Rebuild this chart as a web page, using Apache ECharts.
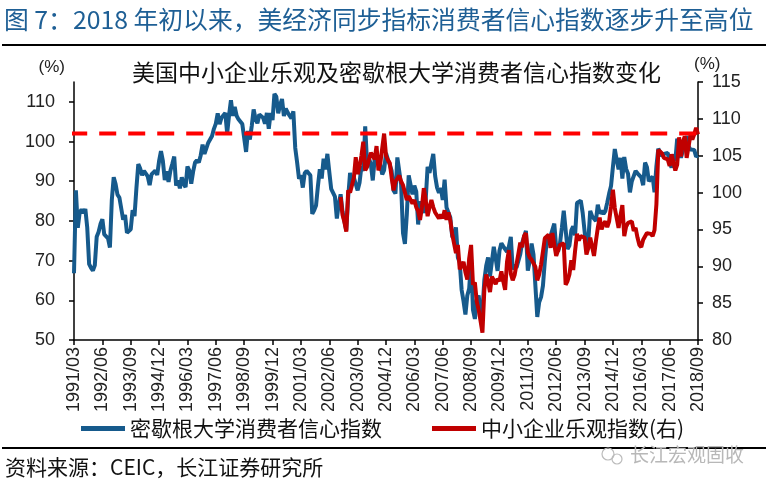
<!DOCTYPE html>
<html><head><meta charset="utf-8">
<script src="https://cdn.jsdelivr.net/npm/echarts@6/dist/echarts.min.js"></script>
<style>html,body{margin:0;padding:0;background:#fff;}#c{width:768px;height:492px;}</style>
</head><body><div id="c"></div>
<script>
// ---------- data ----------
const headerText = '图 7：2018 年初以来，美经济同步指标消费者信心指数逐步升至高位';
const chartTitle = '美国中小企业乐观及密歇根大学消费者信心指数变化';
const sourceText = '资料来源：CEIC，长江证券研究所';
const watermarkText = '长江宏观固收';
const seriesNames = ['密歇根大学消费者信心指数', '中小企业乐观指数(右)'];
const tickLabels = ['1991/03','1992/06','1993/09','1994/12','1996/03','1997/06','1998/09','1999/12',
  '2001/03','2002/06','2003/09','2004/12','2006/03','2007/06','2008/09','2009/12','2011/03',
  '2012/06','2013/09','2014/12','2016/03','2017/06','2018/09'];
const leftTicks = [50, 60, 70, 80, 90, 100, 110];
const refLevel = 102; // dashed reference level (left axis)

// Michigan consumer sentiment, monthly 1991/03 - 2018/09
const michigan = [
  66.8, 87.7, 78.3, 82.1, 82.9, 82.0, 83.0, 78.3, 69.1, 68.2,
  67.5, 68.8, 76.0, 77.2, 79.2, 80.4, 76.6, 76.1, 75.6, 73.3, 85.3, 91.0,
  89.3, 86.6, 85.9, 85.6, 80.3, 81.5, 77.0, 77.3, 77.9, 82.7, 81.2, 88.2,
  94.3, 93.2, 91.5, 92.6, 92.8, 91.2, 89.0, 91.7, 91.5, 92.7, 91.6, 95.1,
  97.6, 95.1, 90.3, 92.5, 89.8, 92.7, 94.4, 96.2, 88.9, 90.2, 88.2, 91.0,
  89.3, 88.5, 93.7, 92.7, 89.4, 92.4, 94.7, 95.3, 94.7, 96.5, 99.2, 96.9,
  97.4, 99.7, 100.0, 101.4, 103.2, 104.5, 107.1, 104.4, 106.0, 105.6, 107.2, 102.1,
  106.6, 110.4, 106.5, 108.7, 106.5, 105.6, 105.2, 104.4, 100.9, 97.4, 102.7, 100.5,
  103.9, 108.1, 105.7, 104.6, 106.8, 107.3, 106.0, 104.5, 107.2, 103.2, 107.2, 105.4,
  112.0, 111.3, 107.1, 109.2, 110.7, 106.4, 108.3, 107.3, 106.8, 105.8, 107.6, 98.4,
  94.7, 90.6, 91.5, 88.4, 92.0, 92.6, 92.4, 91.5, 81.8, 82.7, 83.9, 88.8,
  93.0, 90.7, 95.7, 93.0, 96.9, 92.4, 88.1, 87.6, 86.1, 80.6, 84.2, 86.7,
  82.4, 79.9, 77.6, 86.0, 92.1, 89.7, 90.9, 89.3, 87.7, 89.6, 93.7, 92.6,
  103.8, 94.4, 95.8, 94.2, 90.2, 95.6, 96.7, 95.9, 94.2, 91.7, 92.8, 97.1,
  95.5, 94.1, 92.6, 87.7, 86.9, 96.0, 96.5, 89.1, 76.9, 74.2, 81.6, 91.5,
  91.2, 86.7, 88.9, 87.4, 79.1, 84.9, 84.7, 82.0, 85.4, 93.6, 92.1, 91.7,
  96.9, 91.3, 88.4, 87.1, 88.3, 85.3, 90.4, 83.4, 83.4, 80.9, 76.1, 75.5,
  78.4, 70.8, 69.5, 62.6, 59.8, 56.4, 61.2, 63.0, 70.3, 57.6, 55.3, 60.1,
  61.2, 56.3, 57.3, 65.1, 68.7, 70.8, 66.0, 65.7, 73.5, 70.6, 67.4, 72.5,
  74.4, 73.6, 73.6, 72.2, 73.6, 76.0, 67.8, 68.9, 68.2, 67.7, 71.6, 74.5,
  74.2, 77.5, 67.5, 69.8, 74.3, 71.5, 63.7, 55.8, 59.5, 60.8, 63.7, 69.9,
  75.0, 75.3, 76.2, 76.4, 79.3, 73.2, 72.3, 74.3, 78.3, 82.6, 82.7, 72.9,
  73.8, 77.6, 78.6, 76.4, 84.5, 84.1, 85.1, 82.1, 77.5, 73.2, 75.1, 82.5,
  81.2, 81.6, 80.0, 84.1, 81.9, 82.5, 81.8, 82.5, 84.6, 86.9, 88.8, 93.6,
  98.1, 95.4, 93.0, 95.9, 90.7, 96.1, 93.1, 91.9, 87.2, 90.0, 91.3, 92.6,
  92.0, 91.7, 91.0, 89.0, 94.7, 93.5, 90.0, 89.8, 91.2, 87.2, 93.8, 98.2,
  98.5, 96.3, 96.9, 97.0, 97.1, 95.1, 93.4, 96.8, 95.1, 100.7, 98.5, 95.9,
  95.7, 99.7, 101.4, 98.8, 98.0, 98.2, 97.9, 96.2, 96.5
];

// NFIB small business optimism, monthly 2002/12 - 2018/09
const nfibStart = '2002/12';
const nfib = [
  99.4,
  97.0, 96.0, 94.7, 100.3, 100.0, 101.0, 102.0, 104.8, 102.5, 103.5, 105.0, 106.9,
  103.0, 103.5, 104.5, 105.4, 105.0, 104.5, 106.3, 103.0, 104.0, 106.0, 108.0, 105.0,
  104.4, 104.0, 102.0, 100.3, 101.5, 101.5, 102.3, 101.5, 101.0, 100.0, 99.0, 99.5,
  99.0, 98.5, 99.0, 98.0, 97.5, 96.3, 98.0, 100.6, 99.0, 96.8, 98.0, 99.0,
  98.0, 97.3, 97.3, 96.5, 97.0, 96.5, 97.6, 96.3, 97.3, 96.2, 94.4, 94.6,
  91.8, 92.9, 89.6, 89.4, 90.6, 89.2, 88.2, 91.1, 92.9, 87.5, 87.8, 85.2,
  84.1, 82.6, 81.0, 86.8, 88.9, 87.9, 86.5, 88.6, 88.8, 87.6, 88.3, 88.0,
  89.3, 88.0, 86.8, 90.6, 92.2, 89.0, 88.1, 88.8, 89.0, 91.7, 93.2, 92.6,
  94.1, 94.5, 91.9, 91.2, 90.9, 90.8, 89.9, 88.1, 88.9, 90.2, 92.0, 93.8,
  93.9, 94.3, 92.5, 94.5, 94.4, 91.4, 91.2, 92.9, 92.8, 93.1, 87.5, 88.0,
  88.9, 90.8, 89.5, 92.1, 94.4, 93.5, 94.1, 94.0, 93.9, 91.6, 92.5, 93.9,
  94.1, 91.4, 93.4, 95.2, 96.6, 95.0, 95.7, 96.1, 95.3, 96.1, 98.1, 100.4,
  97.9, 98.0, 95.2, 96.9, 98.3, 94.1, 95.4, 95.9, 96.1, 96.1, 94.8, 95.2,
  93.9, 92.9, 92.6, 93.6, 93.8, 94.5, 94.6, 94.4, 94.1, 94.9, 98.4, 105.8,
  105.9, 105.3, 104.7, 104.5, 104.5, 103.6, 105.2, 105.3, 103.0, 103.8, 107.5, 104.9,
  106.9, 107.6, 104.7, 104.8, 107.8, 107.2, 107.9, 108.8, 107.9
];

// ---------- build ----------
const months = [];
for (let i = 0; i < michigan.length; i++) {
  const m = 2 + i; // 0-based month index from Jan 1991
  const y = 1991 + Math.floor(m / 12);
  const mm = (m % 12) + 1;
  months.push(y + '/' + (mm < 10 ? '0' + mm : mm));
}
const startIdx = months.indexOf(nfibStart);
const nfibData = months.map((_, i) => (i >= startIdx && i - startIdx < nfib.length) ? nfib[i - startIdx] : null);
const lastIdx = months.length - 1;

const LAT = '"Liberation Sans", Arial, "Noto Sans CJK SC", sans-serif';
const CJK = '"Noto Sans CJK SC", "Liberation Sans", sans-serif';
const BLUE = '#165a8c', RED = '#c00000';

const chart = echarts.init(document.getElementById('c'), null, {renderer: 'canvas'});
chart.setOption({
  animation: false,
  backgroundColor: '#ffffff',
  title: {
    text: chartTitle, left: 127, top: 56,
    textStyle: {fontSize: 23, fontWeight: 'normal', color: '#111', fontFamily: CJK}
  },
  grid: {left: 74, right: 70, top: 82, bottom: 152, containLabel: false},
  legend: {
    data: seriesNames, left: 76, top: 413, icon: 'rect', itemWidth: 44, itemHeight: 5, itemGap: 50,
    textStyle: {fontSize: 21, color: '#111', fontFamily: CJK}
  },
  xAxis: [{
    type: 'category', data: months, boundaryGap: false,
    axisLine: {lineStyle: {color: '#000', width: 1.5}},
    axisTick: {interval: (i, v) => tickLabels.includes(v), length: 5, lineStyle: {color: '#000', width: 1.5}},
    axisLabel: {interval: (i, v) => tickLabels.includes(v), rotate: 90, margin: 7, fontSize: 18, color: '#222', fontFamily: LAT},
    splitLine: {show: false}
  }, {
    type: 'value', min: 0, max: lastIdx, show: false
  }],
  yAxis: [{
    type: 'value', min: 50, max: 115, position: 'left',
    name: '(%)', nameLocation: 'end', nameGap: 15,
    nameTextStyle: {fontSize: 17, color: '#222', fontFamily: LAT, align: 'right', verticalAlign: 'middle', padding: [0, 9, 0, 0]},
    axisLine: {show: true, lineStyle: {color: '#000', width: 1.5}},
    axisTick: {show: true, length: 5, customValues: leftTicks, lineStyle: {color: '#000', width: 1.5}},
    axisLabel: {customValues: leftTicks, margin: 19, fontSize: 18, color: '#222', fontFamily: LAT},
    splitLine: {show: false}
  }, {
    type: 'value', min: 80, max: 115, interval: 5, position: 'right',
    name: '(%)', nameLocation: 'end', nameGap: 15,
    nameTextStyle: {fontSize: 17, color: '#222', fontFamily: LAT, align: 'left', verticalAlign: 'middle', padding: [0, 0, 0, -4]},
    axisLine: {show: true, lineStyle: {color: '#000', width: 1.5}},
    axisTick: {show: true, length: 5, lineStyle: {color: '#000', width: 1.5}},
    axisLabel: {margin: 14, fontSize: 18, color: '#222', fontFamily: LAT},
    splitLine: {show: false}
  }],
  series: [{
    name: seriesNames[0], type: 'line', xAxisIndex: 0, yAxisIndex: 0, data: michigan,
    symbol: 'none', lineStyle: {color: BLUE, width: 4}, itemStyle: {color: BLUE}, z: 2
  }, {
    name: seriesNames[1], type: 'line', xAxisIndex: 0, yAxisIndex: 1, data: nfibData,
    symbol: 'none', connectNulls: false, lineStyle: {color: RED, width: 4}, itemStyle: {color: RED}, z: 3
  }, {
    name: 'ref', type: 'line', xAxisIndex: 1, yAxisIndex: 0, clip: false, silent: true,
    data: [[-2, refLevel], [lastIdx + 13, refLevel]],
    symbol: 'none', lineStyle: {color: '#ff0000', width: 4, type: [17, 12]}, z: 4
  }],
  graphic: [
    {type: 'text', left: 4, top: 7, style: {text: headerText, fontSize: 24.8, fill: '#1e5f95', fontFamily: CJK}},
    {type: 'line', shape: {x1: 2, y1: 45, x2: 766, y2: 45}, style: {stroke: '#000', lineWidth: 2}},
    {type: 'line', shape: {x1: 2, y1: 448, x2: 766, y2: 448}, style: {stroke: '#000', lineWidth: 2}},
    {type: 'text', left: 5, top: 457, style: {text: sourceText, fontSize: 21, fill: '#111', fontFamily: CJK}},
    {type: 'circle', shape: {cx: 608, cy: 454, r: 6}, style: {fill: 'none', stroke: '#bbb', lineWidth: 1.2}},
    {type: 'circle', shape: {cx: 617, cy: 459, r: 5}, style: {fill: 'none', stroke: '#bbb', lineWidth: 1.2}},
    {type: 'text', left: 630, top: 445, style: {text: watermarkText, fontSize: 19, fill: '#b8b8b8', fontFamily: CJK}}
  ]
});
</script>
</body></html>
